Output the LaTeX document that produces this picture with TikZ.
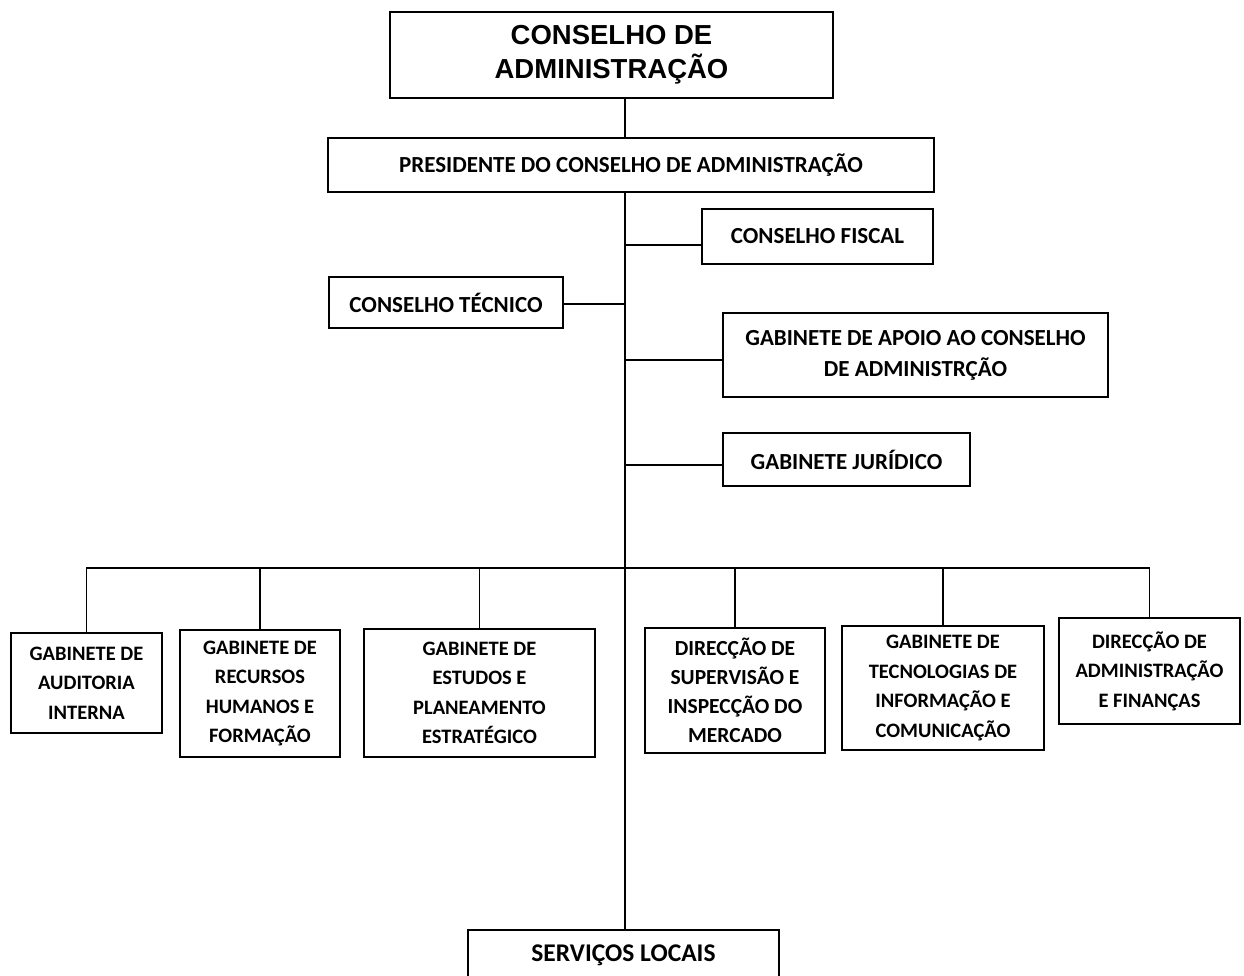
\documentclass[tikz,border=0pt]{standalone}
\usepackage{fontspec}
\setmainfont{Carlito}
\newfontfamily\titlefont{Liberation Sans}
\usetikzlibrary{calc}
\tikzset{
  box/.style={draw, line width=1.6pt, rectangle, inner sep=0pt, align=center, font=\bfseries\fontsize{23}{31}\selectfont},
  lowbox/.style={box, font=\bfseries\fontsize{20.5}{29.5}\selectfont},
  link/.style={line width=1.6pt},
}
\begin{document}
\begin{tikzpicture}[x=1pt,y=-1pt]
\useasboundingbox (0,0) rectangle (1244,976);
\begin{scope}
\clip (0,0) rectangle (1244,976);
\node[box, minimum width=443pt, minimum height=86pt, font=\titlefont\bfseries\fontsize{27.5}{33.5}\selectfont] (top) at (611.5,55) {CONSELHO DE\\ADMINISTRAÇÃO};
\node[box, minimum width=606pt, minimum height=54pt] (pres) at (631,165) {PRESIDENTE DO CONSELHO DE ADMINISTRAÇÃO};
\node[box, minimum width=231pt, minimum height=55pt] (fiscal) at (817.5,236.5) {CONSELHO FISCAL};
\node[box, minimum width=234pt, minimum height=51pt] (tecnico) at (446,302.5) {CONSELHO TÉCNICO};
\node[box, minimum width=385pt, minimum height=84pt] (apoio) at (915.5,355) {GABINETE DE APOIO AO CONSELHO\\DE ADMINISTRÇÃO};
\node[box, minimum width=247pt, minimum height=53pt] (juridico) at (846.5,459.5) {GABINETE JURÍDICO};
\node[lowbox, minimum width=151pt, minimum height=100pt] (b1) at (86.5,683) {GABINETE DE\\AUDITORIA\\INTERNA};
\node[lowbox, minimum width=160pt, minimum height=127pt] (b2) at (260,693.5) {GABINETE DE\\RECURSOS\\HUMANOS E\\FORMAÇÃO};
\node[lowbox, minimum width=231pt, minimum height=128pt] (b3) at (479.5,693) {GABINETE DE\\ESTUDOS E\\PLANEAMENTO\\ESTRATÉGICO};
\node[lowbox, minimum width=180pt, minimum height=125pt, font=\bfseries\fontsize{21.5}{29}\selectfont] (b4) at (735,690.5) {DIRECÇÃO DE\\SUPERVISÃO E\\INSPECÇÃO DO\\MERCADO};
\node[lowbox, minimum width=202pt, minimum height=124pt] (b5) at (943,688) {GABINETE DE\\TECNOLOGIAS DE\\INFORMAÇÃO E\\COMUNICAÇÃO};
\node[lowbox, minimum width=181pt, minimum height=106pt] (b6) at (1149.5,671) {DIRECÇÃO DE\\ADMINISTRAÇÃO\\E FINANÇAS};
\node[box, minimum width=311pt, minimum height=50pt, font=\bfseries\fontsize{25.5}{31}\selectfont] (serv) at (623.5,955) {SERVIÇOS LOCAIS};
\coordinate (tr) at (625,0);
\coordinate (bus) at (625,568);
\draw[link] (top.south -| tr) -- (pres.north -| tr);
\draw[link] (pres.south -| tr) -- (serv.north -| tr);
\draw[link] ([yshift=-8.5pt]fiscal.west) -- ([yshift=-8.5pt]fiscal.west -| tr);
\draw[link] ([yshift=-1.5pt]tecnico.east) -- ([yshift=-1.5pt]tecnico.east -| tr);
\draw[link] ([yshift=-5pt]apoio.west) -- ([yshift=-5pt]apoio.west -| tr);
\draw[link] ([yshift=-5.5pt]juridico.west) -- ([yshift=-5.5pt]juridico.west -| tr);
\draw[link] (b1.north) -- (b1.north |- bus) -- (b6.north |- bus) -- (b6.north);
\foreach \b in {b2,b3,b4,b5} \draw[link] (\b.north) -- (\b.north |- bus);
\end{scope}
\end{tikzpicture}
\end{document}
